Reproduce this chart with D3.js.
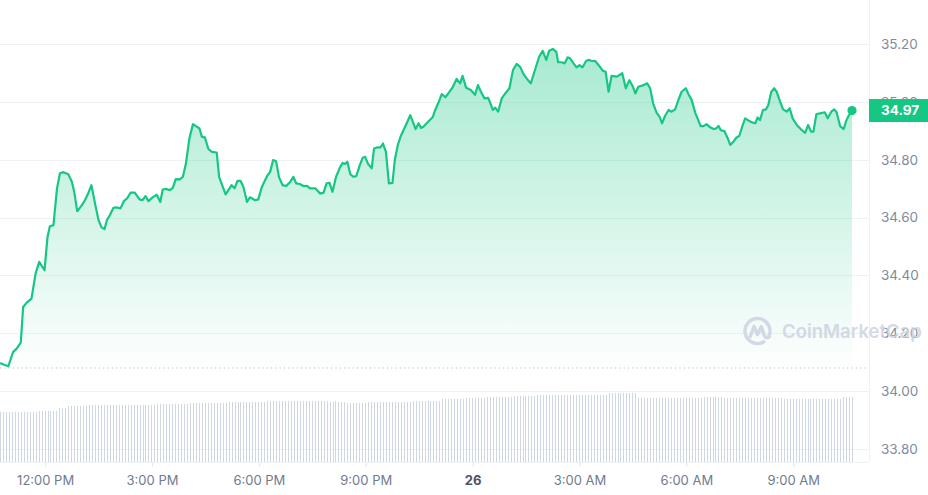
<!DOCTYPE html>
<html>
<head>
<meta charset="utf-8">
<script src="https://cdn.jsdelivr.net/npm/d3@7"></script>
<style>
  body { margin: 0; background: #fff; }
  svg { display: block; font-family: Inter, "Noto Sans", sans-serif; }
</style>
</head>
<body>
<svg width="928" height="495"></svg>
<script>
// 24h window, price points as [minutes after start, price]
const startTime = new Date(2024, 0, 25, 10, 44);
const priceSeries = [
  [0,34.097],[6,34.092],[14,34.086],[22,34.135],[28,34.147],[35,34.168],[39,34.291],[45,34.306],
  [53,34.320],[60,34.407],[66,34.447],[75,34.418],[80,34.533],[84,34.570],[90,34.574],[96,34.701],
  [101,34.753],[107,34.757],[115,34.750],[121,34.724],[125,34.689],[130,34.622],[138,34.643],[143,34.660],
  [149,34.686],[154,34.712],[160,34.649],[166,34.591],[171,34.566],[176,34.560],[180,34.591],[185,34.608],
  [191,34.634],[197,34.635],[203,34.632],[209,34.658],[214,34.666],[220,34.686],[227,34.686],[235,34.663],
  [240,34.660],[245,34.674],[250,34.657],[257,34.670],[264,34.679],[270,34.654],[274,34.697],[280,34.699],
  [286,34.695],[291,34.703],[296,34.733],[303,34.732],[308,34.741],[313,34.785],[319,34.874],[325,34.923],
  [330,34.916],[336,34.908],[340,34.879],[345,34.877],[351,34.837],[357,34.827],[365,34.825],[369,34.741],
  [380,34.680],[390,34.712],[395,34.701],[400,34.727],[405,34.727],[410,34.706],[416,34.654],[421,34.670],
  [430,34.660],[435,34.663],[441,34.706],[446,34.727],[450,34.744],[455,34.758],[460,34.799],[465,34.795],
  [470,34.739],[476,34.712],[482,34.709],[489,34.724],[494,34.741],[499,34.718],[505,34.716],[511,34.709],
  [517,34.710],[522,34.701],[531,34.701],[539,34.683],[545,34.686],[550,34.718],[555,34.720],[560,34.689],
  [566,34.741],[573,34.775],[577,34.789],[581,34.785],[585,34.793],[590,34.750],[595,34.741],[600,34.743],
  [606,34.781],[611,34.807],[615,34.810],[620,34.785],[626,34.770],[630,34.839],[636,34.843],[641,34.843],
  [645,34.856],[650,34.827],[655,34.718],[661,34.720],[665,34.799],[670,34.851],[675,34.882],[685,34.926],
  [691,34.954],[700,34.906],[705,34.926],[709,34.910],[713,34.914],[721,34.931],[729,34.948],[733,34.972],
  [738,34.995],[744,35.027],[750,35.016],[755,35.029],[762,35.049],[769,35.079],[775,35.064],[779,35.090],
  [785,35.049],[793,35.041],[800,35.024],[805,35.058],[810,35.035],[816,35.012],[822,35.014],[825,35.000],
  [830,34.972],[834,34.980],[839,34.966],[845,35.012],[851,35.029],[858,35.047],[864,35.110],[870,35.131],
  [876,35.121],[882,35.095],[887,35.081],[894,35.064],[901,35.110],[908,35.156],[914,35.176],[920,35.145],
  [925,35.177],[931,35.183],[937,35.173],[940,35.137],[946,35.137],[951,35.133],[956,35.154],[960,35.151],
  [966,35.133],[971,35.119],[976,35.127],[981,35.119],[987,35.141],[991,35.145],[997,35.141],[1002,35.142],
  [1009,35.125],[1015,35.108],[1020,35.104],[1025,35.035],[1030,35.090],[1039,35.087],[1048,35.099],[1054,35.047],
  [1060,35.075],[1066,35.052],[1070,35.029],[1075,35.052],[1084,35.058],[1090,35.064],[1095,35.047],[1100,34.995],
  [1106,34.962],[1111,34.948],[1115,34.926],[1120,34.951],[1126,34.972],[1131,34.966],[1137,34.974],[1143,35.009],
  [1148,35.035],[1155,35.047],[1159,35.029],[1165,35.006],[1171,34.962],[1176,34.937],[1180,34.916],[1185,34.916],
  [1190,34.923],[1196,34.912],[1202,34.906],[1206,34.908],[1210,34.917],[1214,34.902],[1220,34.899],[1225,34.877],
  [1230,34.851],[1235,34.862],[1240,34.876],[1245,34.882],[1250,34.914],[1255,34.943],[1261,34.935],[1268,34.928],
  [1272,34.926],[1276,34.946],[1280,34.937],[1285,34.972],[1290,34.974],[1294,34.989],[1299,35.035],[1304,35.047],
  [1308,35.035],[1314,35.000],[1319,34.974],[1325,34.966],[1330,34.978],[1335,34.943],[1342,34.920],[1349,34.905],
  [1356,34.893],[1361,34.920],[1366,34.897],[1370,34.897],[1375,34.958],[1381,34.960],[1389,34.964],[1394,34.943],
  [1400,34.966],[1405,34.974],[1409,34.964],[1415,34.916],[1421,34.906],[1425,34.934],[1429,34.951],[1435,34.970]
];
// one volume bar every 5 minutes (relative units)
const volumeSeries = [
  50,50,50,50,50,50,50,50,50,50,50,50,50,51,51,51,51,51,51,51,54,54,54,56,
  56,56,56,56,56,56,57,57,57,57,57,57,57,57,57,57,57,57,57,57,57,57,57,57,
  57,57,57,57,57,58,58,58,58,58,58,58,58,58,58,58,59,59,59,59,59,59,59,59,
  59,59,59,59,59,60,60,60,60,60,60,60,60,60,60,60,60,60,61,61,61,61,61,61,
  61,61,61,61,61,61,61,61,61,61,61,61,61,61,61,60,60,61,60,60,60,59,59,59,
  59,59,59,59,60,60,60,60,60,60,60,60,60,60,60,60,60,60,60,61,61,61,61,61,
  61,61,61,61,61,63,63,63,63,63,63,63,63,64,64,64,64,64,64,64,65,65,65,65,
  65,65,65,65,65,66,66,66,66,66,66,66,66,67,67,67,67,67,67,67,67,67,67,67,
  67,67,67,67,67,67,67,67,67,67,67,67,67,69,69,69,69,69,69,69,69,69,69,64,
  64,64,64,64,64,64,64,64,64,64,64,64,64,64,64,64,64,64,64,64,64,65,65,65,
  65,65,65,65,64,64,64,64,64,64,64,64,64,64,64,64,64,64,64,64,64,64,64,64,
  63,63,63,63,63,63,63,63,63,63,63,63,63,63,63,63,63,63,63,63,65,65,65,65
];
const priceTicks = [33.80, 34.00, 34.20, 34.40, 34.60, 34.80, 35.00, 35.20];
const openPrice = 34.08;

const green = "#16c784";
const gridColor = "#eff2f5";
const plotRight = 869;
const plotBottom = 462;

const svg = d3.select("svg");
const parse = m => d3.timeMinute.offset(startTime, m);
const prices = priceSeries.map(d => ({ time: parse(d[0]), price: d[1] }));
const volumes = volumeSeries.map((v, i) => ({ time: parse(i * 5), vol: v }));

const x = d3.scaleTime()
  .domain([startTime, d3.timeMinute.offset(startTime, 1440)])
  .range([0, 855]);
const y = d3.scaleLinear().domain([33.80, 35.20]).range([449, 44]);
const yVol = d3.scaleLinear().domain([0, 100]).range([plotBottom, plotBottom - 100]);

// gradient for the area
const defs = svg.append("defs");
const grad = defs.append("linearGradient")
  .attr("id", "areaFill")
  .attr("gradientUnits", "userSpaceOnUse")
  .attr("x1", 0).attr("x2", 0)
  .attr("y1", y(35.20)).attr("y2", y(34.06));
grad.append("stop").attr("offset", 0).attr("stop-color", green).attr("stop-opacity", 0.38);
grad.append("stop").attr("offset", 1).attr("stop-color", green).attr("stop-opacity", 0);

// grid lines
svg.append("g")
  .selectAll("line")
  .data(priceTicks)
  .join("line")
  .attr("x1", 0).attr("x2", plotRight)
  .attr("y1", d => Math.round(y(d)) + 0.5)
  .attr("y2", d => Math.round(y(d)) + 0.5)
  .attr("stroke", gridColor);

svg.append("line")
  .attr("x1", 0).attr("x2", plotRight)
  .attr("y1", plotBottom + 0.5).attr("y2", plotBottom + 0.5)
  .attr("stroke", gridColor);

svg.append("line")
  .attr("x1", plotRight + 0.5).attr("x2", plotRight + 0.5)
  .attr("y1", 0).attr("y2", plotBottom)
  .attr("stroke", gridColor);

// volume bars
svg.append("g")
  .selectAll("line")
  .data(volumes)
  .join("line")
  .attr("x1", d => Math.round(x(d.time)) + 0.5)
  .attr("x2", d => Math.round(x(d.time)) + 0.5)
  .attr("y1", plotBottom)
  .attr("y2", d => yVol(d.vol))
  .attr("stroke", "#cfd6e4")
  .attr("stroke-width", 1);

// open price reference
svg.append("line")
  .attr("x1", 0).attr("x2", plotRight - 2)
  .attr("y1", y(openPrice)).attr("y2", y(openPrice))
  .attr("stroke", "#b8bfcc")
  .attr("stroke-width", 1.2)
  .attr("stroke-dasharray", "1.2,3.1");

// area + line
const area = d3.area()
  .x(d => x(d.time))
  .y0(y(34.06))
  .y1(d => y(d.price));
const line = d3.line()
  .x(d => x(d.time))
  .y(d => y(d.price));

svg.append("path")
  .datum(prices)
  .attr("d", area)
  .attr("fill", "url(#areaFill)");

svg.append("path")
  .datum(prices)
  .attr("d", line)
  .attr("fill", "none")
  .attr("stroke", green)
  .attr("stroke-width", 2.2)
  .attr("stroke-linejoin", "round");

const last = prices[prices.length - 1];
svg.append("circle")
  .attr("cx", x(last.time))
  .attr("cy", y(last.price))
  .attr("r", 4.6)
  .attr("fill", green);

// x axis
const xAxis = d3.axisBottom(x)
  .ticks(d3.timeHour.every(3))
  .tickSize(5)
  .tickPadding(9)
  .tickFormat(d => d.getHours() === 0 ? d3.timeFormat("%-d")(d) : d3.timeFormat("%-I:%M %p")(d));

const gx = svg.append("g")
  .attr("transform", `translate(0,${plotBottom})`)
  .call(xAxis);
gx.select(".domain").remove();
gx.selectAll(".tick line").attr("stroke", "#e4e8ee");
gx.selectAll(".tick text")
  .attr("font-size", 13)
  .attr("font-family", "Inter, 'Noto Sans', sans-serif")
  .attr("fill", d => d.getHours() === 0 ? "#4b5568" : "#6f7b90")
  .attr("font-weight", d => d.getHours() === 0 ? 700 : 400);

// y axis labels
const yAxis = d3.axisRight(y)
  .tickValues(priceTicks)
  .tickSize(0)
  .tickPadding(0)
  .tickFormat(d3.format(".2f"));

const gy = svg.append("g")
  .attr("transform", "translate(881,0)")
  .call(yAxis);
gy.select(".domain").remove();
gy.selectAll(".tick text")
  .attr("font-size", 13.5)
  .attr("font-family", "Inter, 'Noto Sans', sans-serif")
  .attr("fill", "#808a9d");

// current price tag
const tag = svg.append("g").attr("transform", `translate(${plotRight},${y(last.price)})`);
tag.append("rect")
  .attr("x", 0).attr("y", -11.5)
  .attr("width", 928 - plotRight).attr("height", 23)
  .attr("fill", green);
tag.append("text")
  .attr("x", 12).attr("dy", "0.35em")
  .attr("fill", "#fff")
  .attr("font-size", 13.5)
  .attr("font-weight", 700)
  .text(d3.format(".2f")(last.price));

// watermark
const mark = svg.append("g")
  .attr("transform", "translate(757.5,331)")
  .attr("opacity", 0.85);
mark.append("path")
  .attr("d", "M10.8,6.3 A12.5,12.5 0 1 0 6.3,10.8")
  .attr("fill", "none")
  .attr("stroke", "#cdd4e1")
  .attr("stroke-width", 3.4)
  .attr("stroke-linecap", "round");
mark.append("path")
  .attr("d", "M-7.5,6 L-3.5,-4.5 L0,3.5 L3.8,-4.5 L6.5,4 Q8.5,8.5 12,5.5")
  .attr("fill", "none")
  .attr("stroke", "#cdd4e1")
  .attr("stroke-width", 3.4)
  .attr("stroke-linejoin", "round")
  .attr("stroke-linecap", "round");
svg.append("text")
  .attr("x", 782).attr("y", 331)
  .attr("dy", "0.36em")
  .attr("font-size", 18.5)
  .attr("font-weight", 600)
  .attr("fill", "#cdd4e1")
  .attr("opacity", 0.85)
  .text("CoinMarketCap");
</script>
</body>
</html>
